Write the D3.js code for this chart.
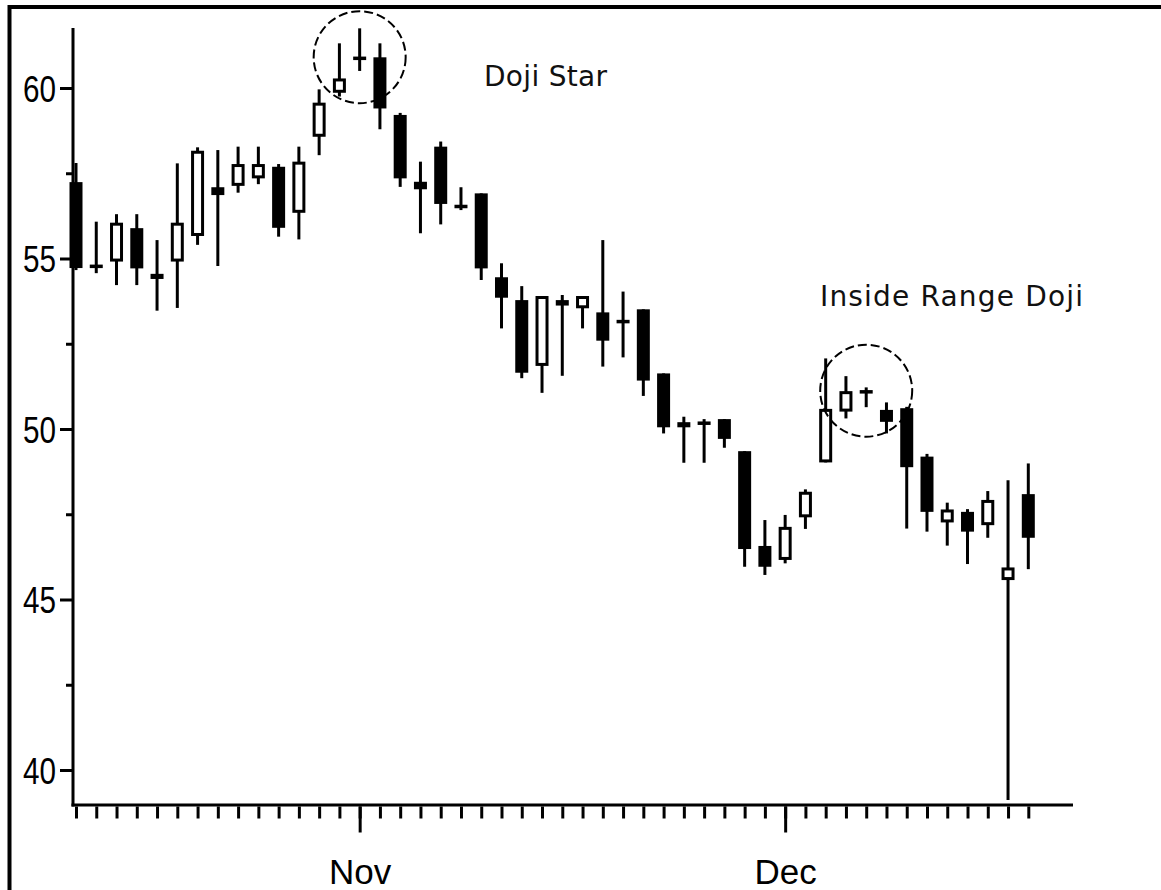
<!DOCTYPE html>
<html>
<head>
<meta charset="utf-8">
<script src="https://cdn.jsdelivr.net/npm/d3@7"></script>
<style>
  html, body { margin: 0; padding: 0; background: #fff; }
  svg { display: block; }
</style>
</head>
<body>
<svg id="chart" width="1161" height="890"></svg>
<script>
// Daily sessions (trading days), first of each month marked on the axis
const sessions = [0, 1, 2, 3, 4, 5, 6, 7, 8, 9, 10, 11, 12, 13, 14, 15, 16, 17, 18, 19, 20, 21, 22, 23,
                  24, 25, 26, 27, 28, 29, 30, 31, 32, 33, 34, 35, 36, 37, 38, 39, 40, 41, 42, 43, 44, 45, 46, 47];
const monthStarts = [14, 35];
const monthLabels = ["Nov", "Dec"];

// OHLC prices per session
const open  = [57.24, 54.78, 54.91, 55.89, 54.55, 54.91, 55.66, 57.09, 57.13, 57.35, 57.69, 56.34,
               58.57, 59.86, 60.88, 60.90, 59.21, 57.25, 58.28, 56.55, 56.91, 54.45, 53.78, 51.85,
               53.78, 53.54, 53.42, 53.16, 53.51, 51.63, 50.20, 50.18, 50.29, 49.35, 46.57, 46.16,
               47.41, 49.02, 50.51, 51.10, 50.56, 50.61, 49.19, 47.26, 47.57, 47.18, 45.57, 48.09];
const high  = [57.80, 56.08, 56.30, 56.30, 55.54, 57.79, 58.26, 58.18, 58.28, 58.28, 57.77, 58.28,
               59.96, 61.31, 61.75, 61.31, 59.27, 57.84, 58.43, 57.09, 56.91, 54.86, 54.19, 53.90,
               53.93, 53.90, 55.54, 54.03, 53.51, 51.63, 50.36, 50.29, 50.29, 49.35, 47.33, 47.48,
               48.23, 52.07, 51.55, 51.22, 50.78, 50.65, 49.27, 47.84, 47.65, 48.18, 48.50, 48.99];
const low   = [54.66, 54.57, 54.22, 54.22, 53.47, 53.55, 55.40, 54.78, 56.93, 57.18, 55.64, 55.56,
               58.03, 59.75, 60.50, 58.79, 57.10, 55.74, 56.00, 56.42, 54.37, 52.95, 51.49, 51.06,
               51.56, 52.95, 51.83, 52.10, 50.97, 49.87, 49.01, 49.01, 49.45, 45.96, 45.72, 46.06,
               47.07, 49.02, 50.31, 50.64, 49.87, 47.08, 46.99, 46.58, 46.04, 46.81, 39.12, 45.89];
const close = [54.72, 54.76, 56.05, 54.71, 54.40, 56.05, 58.16, 56.86, 57.77, 57.77, 55.90, 57.84,
               59.57, 60.28, 60.86, 59.40, 57.35, 57.03, 56.60, 56.50, 54.71, 53.85, 51.65, 53.90,
               53.62, 53.90, 52.59, 53.14, 51.42, 50.05, 50.05, 50.16, 49.71, 46.48, 45.96, 47.13,
               48.16, 50.59, 51.11, 51.08, 50.21, 48.88, 47.57, 47.64, 46.99, 47.92, 45.94, 46.81];

// Price axis ticks
const majorTicks = [40, 45, 50, 55, 60];
const minorTicks = [42.5, 47.5, 52.5, 57.5];

// Pattern call-outs: session to circle, and its caption
const callouts = [
  { session: 14, text: "Doji Star",          tx: 484, ty: 86,  len: 123 },
  { session: 39, text: "Inside Range Doji",  tx: 820, ty: 306, len: 263 }
];

const svg = d3.select("#chart");
const plotTop = 28, plotBottom = 805, plotLeft = 73, plotRight = 1073;

const x = d3.scalePoint().domain(sessions).range([76, 1028.3]);
const y = d3.scaleLinear().domain([40, 60]).range([770, 88]);

const labelFont = "'Liberation Sans', Arial, sans-serif";

// Outer frame
svg.append("path")
  .attr("d", "M9.5,900V7H1175")
  .attr("fill", "none").attr("stroke", "#000").attr("stroke-width", 4);

// Y axis
const yAxis = svg.append("g").attr("transform", `translate(${plotLeft},0)`);
yAxis.call(d3.axisLeft(y).tickValues(majorTicks).tickSize(13).tickFormat(d3.format("d")));
yAxis.select(".domain").remove();
yAxis.selectAll(".tick line").attr("stroke", "#000").attr("stroke-width", 3);
yAxis.selectAll(".tick text")
  .attr("x", -17).attr("dy", null).attr("y", 13)
  .attr("font-family", labelFont).attr("font-size", 36)
  .attr("textLength", 33).attr("lengthAdjust", "spacingAndGlyphs")
  .attr("fill", "#000");
const yMinor = svg.append("g").attr("transform", `translate(${plotLeft},0)`);
yMinor.call(d3.axisLeft(y).tickValues(minorTicks).tickSize(7).tickFormat(""));
yMinor.select(".domain").remove();
yMinor.selectAll(".tick line").attr("stroke", "#000").attr("stroke-width", 3);
svg.append("line")
  .attr("x1", plotLeft).attr("x2", plotLeft)
  .attr("y1", plotTop).attr("y2", plotBottom + 1.5)
  .attr("stroke", "#000").attr("stroke-width", 3);

// X axis
const xAxis = svg.append("g").attr("transform", `translate(0,${plotBottom + 1.5})`);
xAxis.call(d3.axisBottom(x).tickValues(sessions).tickSize(12).tickFormat(""));
xAxis.select(".domain").remove();
xAxis.selectAll(".tick line").attr("stroke", "#000").attr("stroke-width", 3);
const xMonth = svg.append("g").attr("transform", `translate(0,${plotBottom + 1.5})`);
xMonth.call(d3.axisBottom(x).tickValues(monthStarts).tickSize(26)
  .tickFormat((d, i) => monthLabels[i]));
xMonth.select(".domain").remove();
xMonth.selectAll(".tick line").attr("stroke", "#000").attr("stroke-width", 3);
xMonth.selectAll(".tick text")
  .attr("y", 77).attr("dy", null)
  .attr("font-family", labelFont).attr("font-size", 35)
  .attr("fill", "#000");
svg.append("line")
  .attr("x1", plotLeft - 1.5).attr("x2", plotRight)
  .attr("y1", plotBottom).attr("y2", plotBottom)
  .attr("stroke", "#000").attr("stroke-width", 3);

// Candles
const candles = sessions.map((s, i) => ({ s, o: open[i], h: high[i], l: low[i], c: close[i] }));
const bodyW = 13, strokeW = 3;
const g = svg.append("g");

const candle = g.selectAll("g.candle").data(candles).join("g").attr("class", "candle");

candle.append("line")
  .attr("x1", d => x(d.s)).attr("x2", d => x(d.s))
  .attr("y1", d => y(d.h)).attr("y2", d => y(d.l))
  .attr("stroke", "#000").attr("stroke-width", 3);

candle.each(function (d) {
  const sel = d3.select(this);
  const top = y(Math.max(d.o, d.c));
  const bot = y(Math.min(d.o, d.c));
  const cx = x(d.s);
  if (d.c > d.o) {
    // rising session: hollow body
    sel.append("rect")
      .attr("x", cx - bodyW / 2 + strokeW / 2)
      .attr("y", top + strokeW / 2)
      .attr("width", bodyW - strokeW)
      .attr("height", Math.max(bot - top - strokeW, 1))
      .attr("fill", "#fff").attr("stroke", "#000").attr("stroke-width", strokeW);
  } else {
    // falling session: solid body
    const hgt = Math.max(bot - top, 3.5);
    sel.append("rect")
      .attr("x", cx - bodyW / 2)
      .attr("y", (top + bot) / 2 - hgt / 2)
      .attr("width", bodyW)
      .attr("height", hgt)
      .attr("fill", "#000");
  }
});

// Call-out circles and captions
svg.append("g").selectAll("circle").data(callouts).join("circle")
  .attr("cx", d => x(d.session))
  .attr("cy", d => y(close[d.session]) - 1.5)
  .attr("r", 46)
  .attr("fill", "none").attr("stroke", "#000").attr("stroke-width", 2)
  .attr("stroke-dasharray", "9,4");

svg.append("g").selectAll("text").data(callouts).join("text")
  .attr("x", d => d.tx).attr("y", d => d.ty)
  .attr("font-family", "'DejaVu Sans', Verdana, sans-serif")
  .attr("font-size", 28)
  .attr("textLength", d => d.len).attr("lengthAdjust", "spacing")
  .attr("fill", "#111")
  .text(d => d.text);
</script>
</body>
</html>
